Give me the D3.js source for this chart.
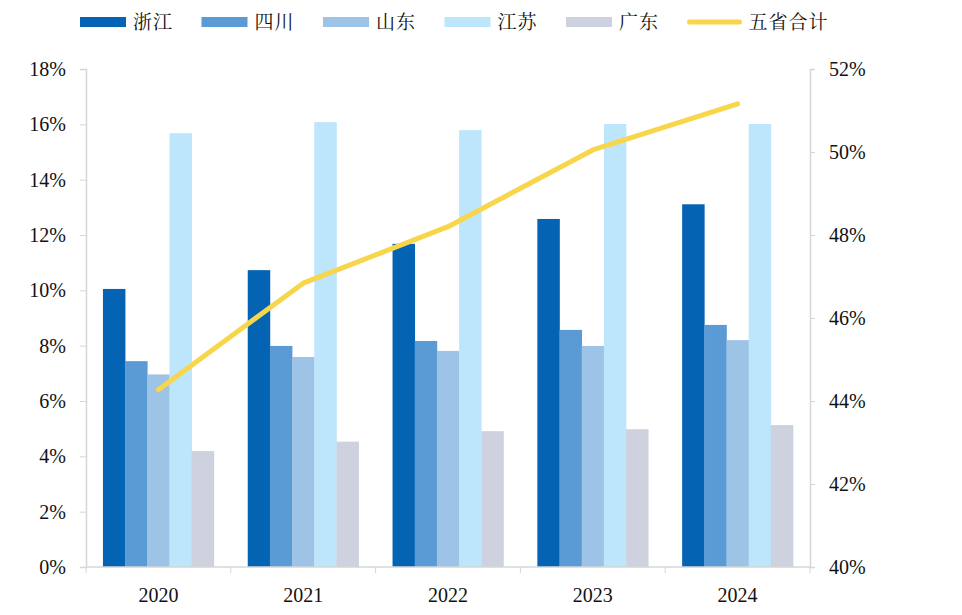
<!DOCTYPE html>
<html><head><meta charset="utf-8">
<script src="https://cdn.jsdelivr.net/npm/d3@7"></script>
<style>
html,body{margin:0;padding:0;background:#fff;}
svg{display:block;}
</style></head>
<body>
<svg id="chart" width="962" height="615"></svg>
<script>
const years = ["2020","2021","2022","2023","2024"];
const seriesNames = ["浙江","四川","山东","江苏","广东"];
const zhejiang = [10.05, 10.73, 11.68, 12.58, 13.11];
const sichuan  = [7.44, 7.99, 8.17, 8.57, 8.75];
const shandong = [6.96, 7.59, 7.81, 7.99, 8.20];
const jiangsu  = [15.68, 16.08, 15.79, 16.01, 16.01];
const guangdong= [4.19, 4.53, 4.91, 4.98, 5.13];
const totalName = "五省合计";
const total = [44.27, 46.84, 48.20, 50.05, 51.16];
const leftTicks = [0,2,4,6,8,10,12,14,16,18];
const rightTicks = [40,42,44,46,48,50,52];

const colors = ["#0563b3","#5b9bd5","#9dc3e6","#bde5fb","#ced2de"];
const lineColor = "#f8d64b";
const barSeries = [zhejiang, sichuan, shandong, jiangsu, guangdong];

const svg = d3.select("#chart");
const L = 86, R = 810, T = 69, B = 567;
const numFont = "'Liberation Serif','Times New Roman',serif";
const cjkFont = "'Noto Serif CJK SC','Noto Sans CJK SC',sans-serif";
const axisColor = "#d6d6d6";

const x0 = d3.scaleBand().domain(years).range([L, R]).paddingInner(0.234).paddingOuter(0.117);
const x1 = d3.scaleBand().domain(seriesNames).range([0, x0.bandwidth()]);
const yL = d3.scaleLinear().domain([0, 18]).range([B, T]);
const yR = d3.scaleLinear().domain([40, 52]).range([B, T]);

// bars
seriesNames.forEach((name, si) => {
  svg.append("g").selectAll("rect").data(years).join("rect")
    .attr("x", d => x0(d) + x1(name))
    .attr("y", (d, i) => yL(barSeries[si][i]))
    .attr("width", x1.bandwidth() + 0.3)
    .attr("height", (d, i) => B - yL(barSeries[si][i]))
    .attr("fill", colors[si]);
});

// left axis
const gL = svg.append("g").attr("transform", `translate(${L},0)`)
  .call(d3.axisLeft(yL).tickValues(leftTicks).tickFormat(d => d + "%").tickSize(6).tickPadding(14));
// right axis
const gR = svg.append("g").attr("transform", `translate(${R},0)`)
  .call(d3.axisRight(yR).tickValues(rightTicks).tickFormat(d => d + "%").tickSize(5).tickPadding(14));
// bottom axis
const step = x0.step();
const bounds = d3.range(years.length + 1).map(i => L + i * step);
const gB = svg.append("g").attr("transform", `translate(0,${B})`)
  .call(d3.axisBottom(x0).tickSize(0).tickPadding(20));
gB.selectAll(".tick text").attr("dy", "0.75em");
gB.append("g").selectAll("line").data(bounds).join("line")
  .attr("x1", d => d).attr("x2", d => d).attr("y1", 0).attr("y2", 6)
  .attr("stroke", axisColor);

[gL, gR, gB].forEach(g => {
  g.select(".domain").attr("stroke", axisColor).attr("stroke-width", 1.5);
  g.selectAll(".tick line").attr("stroke", axisColor);
  g.selectAll(".tick text").attr("font-family", numFont).attr("font-size", 20).attr("fill", "#111");
});
gB.select(".domain").attr("d", `M${L},0H${R}`);

// line
const line = d3.line().x((d, i) => x0(years[i]) + x0.bandwidth() / 2).y(d => yR(d));
svg.append("path").datum(total).attr("d", line)
  .attr("fill", "none").attr("stroke", lineColor).attr("stroke-width", 5)
  .attr("stroke-linejoin", "round").attr("stroke-linecap", "round");

// legend
const legendNames = seriesNames.concat([totalName]);
const lg = svg.append("g");
legendNames.forEach((name, i) => {
  const lx = 80 + i * 121.5;
  const g = lg.append("g").attr("transform", `translate(${lx},22)`);
  if (i < 5) {
    g.append("rect").attr("x", 0).attr("y", -5).attr("width", 46).attr("height", 10).attr("fill", colors[i]);
  } else {
    g.append("line").attr("x1", 2).attr("x2", 52).attr("y1", 0).attr("y2", 0)
      .attr("stroke", lineColor).attr("stroke-width", 5).attr("stroke-linecap", "round");
  }
  g.append("text").attr("x", i < 5 ? 53 : 61).attr("y", 0).attr("dy", "0.36em")
    .attr("font-family", cjkFont).attr("font-size", 19).attr("fill", "#111")
    .attr("letter-spacing", 1).text(name);
});
</script>
</body></html>
